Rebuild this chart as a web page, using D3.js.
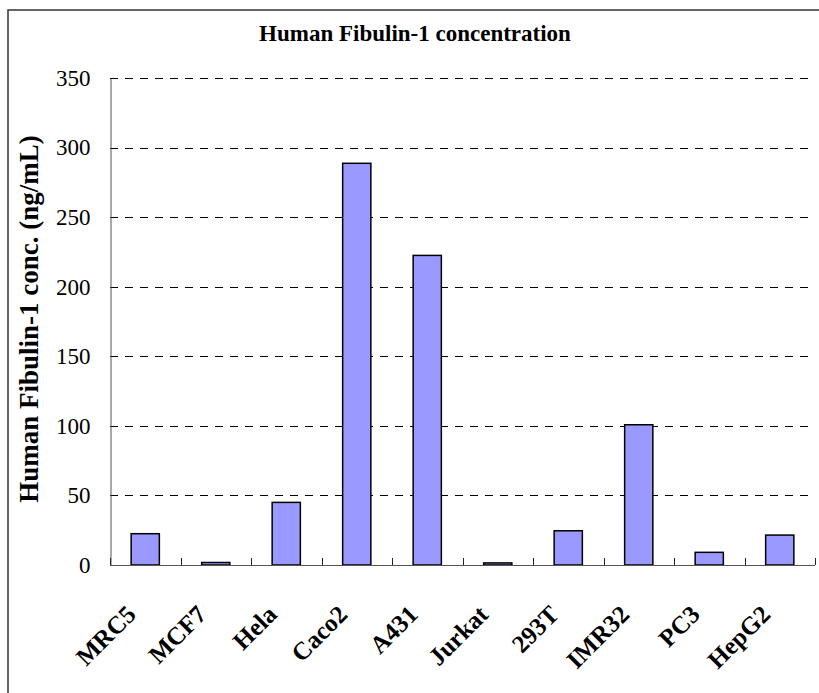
<!DOCTYPE html>
<html><head><meta charset="utf-8">
<script src="https://cdn.jsdelivr.net/npm/d3@7"></script>
<style>html,body{margin:0;padding:0;background:#fff;}</style>
</head><body>
<svg id="c" width="819" height="693"></svg>
<script>
const categories = ["MRC5","MCF7","Hela","Caco2","A431","Jurkat","293T","IMR32","PC3","HepG2"];
const values = [22.5, 1.8, 45, 288.7, 222.5, 1.5, 24.6, 100.8, 9.1, 21.5];
const yTicks = [0, 50, 100, 150, 200, 250, 300, 350];
const titleText = "Human Fibulin-1 concentration";
const yTitle = "Human Fibulin-1 conc. (ng/mL)";

const svg = d3.select("#c");
const L = 110, R = 815, T = 78, B = 565;
const x = d3.scaleBand().domain(categories).range([L, R]).padding(0);
const y = d3.scaleLinear().domain([0, 350]).range([B, T]);
const serif = "'Liberation Serif','Times New Roman',serif";

// outer border
svg.append("rect").attr("x", 8).attr("y", 10).attr("width", 830).attr("height", 700)
  .attr("fill", "none").attr("stroke", "#333").attr("stroke-width", 1.5);

// title
svg.append("text").attr("x", 415).attr("y", 41).attr("text-anchor", "middle")
  .attr("font-family", serif).attr("font-weight", "bold").attr("font-size", 23)
  .text(titleText);

// gridlines
svg.append("g").selectAll("line").data(yTicks.filter(d => d > 0)).join("line")
  .attr("x1", L).attr("x2", R).attr("y1", d => Math.round(y(d)) + 0.5).attr("y2", d => Math.round(y(d)) + 0.5)
  .attr("stroke", "#000").attr("stroke-width", 1).attr("stroke-dasharray", "8,7");

// bars
const bw = x.bandwidth() * 0.4;
svg.append("g").selectAll("rect").data(values).join("rect")
  .attr("x", (d, i) => x(categories[i]) + (x.bandwidth() - bw) / 2)
  .attr("y", d => y(d))
  .attr("width", bw)
  .attr("height", d => B - y(d))
  .attr("fill", "#9999FF").attr("stroke", "#000").attr("stroke-width", 1.5);

// y axis
const ya = svg.append("g").attr("transform", `translate(${L + 0.5},0)`)
  .call(d3.axisLeft(y).tickValues(yTicks).tickSize(0).tickPadding(20).tickFormat(d3.format("d")));
ya.select(".domain").attr("stroke", "#555");
ya.selectAll("text").attr("font-family", serif).attr("font-size", 23).attr("fill", "#000");

// x axis with inner ticks at category boundaries
svg.append("line").attr("x1", L).attr("x2", R).attr("y1", B + 0.5).attr("y2", B + 0.5)
  .attr("stroke", "#555").attr("stroke-width", 1);
const bounds = categories.map(c => x(c)).concat([R]);
svg.append("g").selectAll("line").data(bounds).join("line")
  .attr("x1", d => Math.round(d) + 0.5).attr("x2", d => Math.round(d) + 0.5)
  .attr("y1", B).attr("y2", B - 7).attr("stroke", "#222").attr("stroke-width", 1);

// x labels
svg.append("g").selectAll("text").data(categories).join("text")
  .attr("transform", d => `translate(${x(d) + x.bandwidth() / 2 - 8},${B + 51}) rotate(-45)`)
  .attr("text-anchor", "end")
  .attr("font-family", serif).attr("font-weight", "bold").attr("font-size", 25)
  .text(d => d);

// y title
svg.append("text").attr("transform", `translate(38,319) rotate(-90)`)
  .attr("text-anchor", "middle")
  .attr("font-family", serif).attr("font-weight", "bold").attr("font-size", 27)
  .text(yTitle);
</script>
</body></html>
